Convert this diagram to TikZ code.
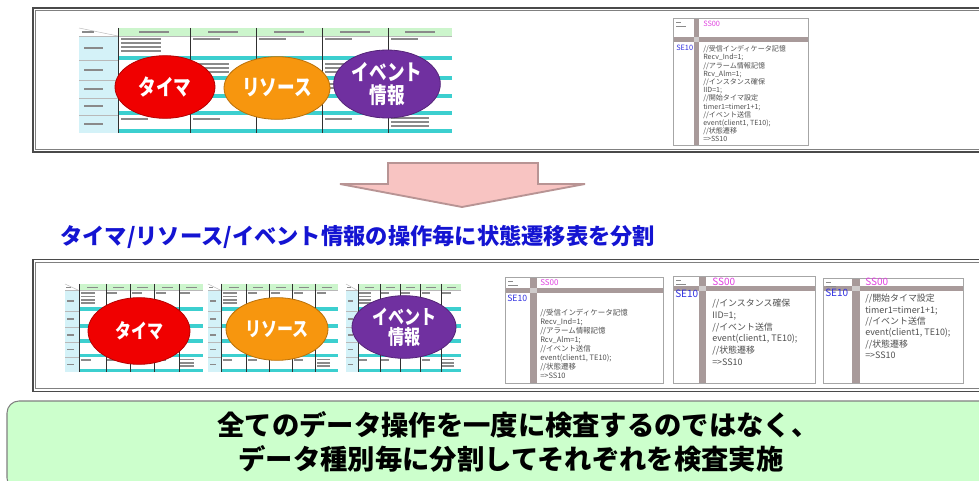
\documentclass[tikz,border=0pt]{standalone}
\usepackage{fontspec}
\usepackage{graphicx}
\setmainfont{Noto Sans CJK JP}
\usetikzlibrary{shapes.geometric}
\definecolor{tabcyan}{HTML}{D4F2F8}
\definecolor{tabgreen}{HTML}{CCF5CC}
\definecolor{tabteal}{HTML}{3CCFCF}
\definecolor{tabgrid}{HTML}{303030}
\definecolor{cellbar}{HTML}{8A8A8A}
\definecolor{elred}{HTML}{F00000}
\definecolor{elorange}{HTML}{F7960E}
\definecolor{elpurple}{HTML}{7030A0}
\definecolor{codebar}{HTML}{A89A9A}
\definecolor{codelight}{HTML}{D0CCCC}
\definecolor{codetext}{HTML}{505050}
\definecolor{codemag}{HTML}{E040E0}
\definecolor{codeblue}{HTML}{3030E0}
\definecolor{arrowfill}{HTML}{F8C4C2}
\definecolor{arrowdraw}{HTML}{B89494}
\definecolor{titleblue}{HTML}{1414D2}
\definecolor{notegreen}{HTML}{CCFFCC}
\definecolor{noteline}{HTML}{808080}
\definecolor{framecol}{HTML}{4A4A4A}
\newcommand{\cnd}[1]{\scalebox{0.8}[1]{#1}}
\tikzset{
  gridline/.style={draw=tabgrid,line width=0.7pt},
  thinline/.style={draw=gray!55,line width=0.35pt},
  elnode/.style={ellipse, draw=#1!75!black, fill=#1, line width=0.6pt, text=white, inner sep=0pt, align=center},
  codeline/.style={anchor=west, inner sep=0pt, text=codetext, text height=0.75em, text depth=0.2em},
  outerframe/.style={draw=framecol, line width=1.3pt},
  innerframe/.style={draw=gray, line width=0.6pt},
}
% table screenshot, local size 373 x 105
\newcommand{\stbtable}[4]{%
\begin{scope}[shift={(#1,#2)},xscale=#3/373,yscale=#4/105]
\fill[white] (0,0) rectangle (373,105);
\fill[tabcyan] (0,8) rectangle (39,105);
\fill[tabgreen] (39,0) rectangle (373,8);
\foreach \yy in {28,48,66,83,101} {\fill[tabteal] (39,\yy) rectangle (373,\yy+4);}
\foreach \yy in {32,52,70,87} {\draw[thinline] (0,\yy) -- (39,\yy);}
\draw[thinline] (0,8) -- (373,8);
\draw[thinline] (0,0) -- (39,8);
\draw[gridline] (39,0) -- (39,105);
\foreach \xx in {111,177,243,309} {\draw[gridline] (\xx,0) -- (\xx,105);}
\foreach \xx in {75,144,210,276,341} {\fill[cellbar] (\xx-15,3) rectangle (\xx+15,5);}
\fill[cellbar] (3,3) rectangle (15,5);
\foreach \yy in {20,42,61,78,96} {\fill[cellbar] (5,\yy-1) rectangle (24,\yy+1);}
\foreach \yy in {10,14,18,22} {\fill[cellbar] (42,\yy) rectangle (82,\yy+2);}
\foreach \xx in {111,177,243,309} {\fill[cellbar] (\xx+3,10) rectangle (\xx+30,12);}
\foreach \yy in {35,39,43} {\fill[cellbar] (114,\yy) rectangle (150,\yy+2); \fill[cellbar] (246,\yy) rectangle (280,\yy+2);}
\foreach \yy in {55,59} {\fill[cellbar] (246,\yy) rectangle (280,\yy+2);}
\foreach \xx in {39,111,243} {\fill[cellbar] (\xx+3,90) rectangle (\xx+30,92);}
\foreach \yy in {89,93,97} {\fill[cellbar] (312,\yy) rectangle (350,\yy+2);}
\end{scope}}
% code screenshot frame: x y w h colw barw bary barh
\newcommand{\codeframe}[8]{%
\begin{scope}[shift={(#1,#2)}]
\fill[white] (0,0) rectangle (#3,#4);
\fill[codebar] (#5,0) rectangle (#5+#6,#4);
\fill[codebar] (0,#7) rectangle (#3,#7+#8);
\fill[codelight] (#5,#7) rectangle (#5+#6,#7+#8);
\fill[cellbar] (3,4) rectangle (8,5.2);
\fill[cellbar] (3,8) rectangle (13,9.2);
\draw[gray!70,line width=0.5pt] (0,0) rectangle (#3,#4);
\end{scope}}
\begin{document}
\begin{tikzpicture}[x=0.75pt,y=-0.75pt]
\useasboundingbox (0,0) rectangle (979,481);
\clip (0,0) rectangle (979,481);
\fill[white] (0,0) rectangle (979,481);

% ---------- top frame ----------
\draw[outerframe] (33,8) rectangle (1000,152);
\draw[innerframe] (35.8,10.8) rectangle (1000,149.2);

\stbtable{79}{28}{373}{105}
\node[elnode=elred, minimum width=75pt, minimum height=47pt, font=\bfseries\fontsize{16.5}{18}\selectfont] (t1) at (165,87) {\cnd{タイマ}};
\node[elnode=elorange, minimum width=79.5pt, minimum height=47pt, font=\bfseries\fontsize{16.5}{18}\selectfont] (t2) at (277,88) {\cnd{リソース}};
\node[elnode=elpurple, minimum width=80pt, minimum height=51pt, font=\bfseries\fontsize{16.5}{18}\selectfont] (t3) at (387,84) {\cnd{イベント}\\[-1pt]\cnd{情報}};

\codeframe{673}{18}{135}{127}{21}{5}{19}{5}
\node[anchor=west, inner sep=0pt, text=codemag, font=\fontsize{5.5}{6}\selectfont] (tss) at (703,24) {SS00};
\node[anchor=west, inner sep=0pt, text=codeblue, font=\fontsize{5.5}{6}\selectfont] (tse) at (676,48) {SE10};
\foreach \t [count=\i from 0] in {{//受信インディケータ記憶},{Recv\_Ind=1;},{//アラーム情報記憶},{Rcv\_Alm=1;},{//インスタンス確保},{IID=1;},{//開始タイマ設定},{timer1=timer1+1;},{//イベント送信},{event(client1, TE10);},{//状態遷移},{=>SS10}}
  {\node[codeline, font=\fontsize{5.3}{6}\selectfont] (tc\i) at (703,48+8.2*\i) {\t};}

% ---------- arrow ----------
\draw[fill=arrowfill, draw=arrowdraw, line width=1.4pt, line join=miter] (388,163) -- (538,163) -- (538,184) -- (585,184) -- (462,207) -- (340,184) -- (388,184) -- cycle;

\node[anchor=west, inner sep=0pt, text=titleblue, font=\bfseries\fontsize{16.7}{19}\selectfont] (title) at (60,237) {タイマ/リソース/イベント情報の操作毎に状態遷移表を分割};

% ---------- middle frame ----------
\draw[outerframe] (33,259.5) rectangle (1000,391.5);
\draw[innerframe] (35.8,262.3) rectangle (1000,388.7);

\stbtable{65}{284}{138}{88}
\stbtable{208}{284}{130}{88}
\stbtable{346}{284}{115}{88}
\node[elnode=elred, minimum width=76.5pt, minimum height=50pt, font=\bfseries\fontsize{15}{17}\selectfont] (m1) at (139,331) {\cnd{タイマ}};
\node[elnode=elorange, minimum width=76.5pt, minimum height=47pt, font=\bfseries\fontsize{15}{17}\selectfont] (m2) at (277,329) {\cnd{リソース}};
\node[elnode=elpurple, minimum width=78pt, minimum height=47pt, font=\bfseries\fontsize{15}{16}\selectfont] (m3) at (404,327) {\cnd{イベント}\\[-1pt]\cnd{情報}};

% code 1
\codeframe{505}{277}{158}{106}{25}{7}{11}{5}
\node[anchor=west, inner sep=0pt, text=codemag, font=\fontsize{6}{7}\selectfont] (ass) at (540,283) {SS00};
\node[anchor=west, inner sep=0pt, text=codeblue, font=\fontsize{6.5}{7}\selectfont] (ase) at (507,298) {SE10};
\foreach \t [count=\i from 0] in {{//受信インディケータ記憶},{Recv\_Ind=1;},{//アラーム情報記憶},{Rcv\_Alm=1;},{//イベント送信},{event(client1, TE10);},{//状態遷移},{=>SS10}}
  {\node[codeline, font=\fontsize{5.6}{6}\selectfont] (ac\i) at (540,312+9*\i) {\t};}

% code 2
\codeframe{673}{276}{142}{107}{26}{7}{10}{5}
\node[anchor=west, inner sep=0pt, text=codemag, font=\fontsize{7.5}{8}\selectfont] (bss) at (712,282) {SS00};
\node[anchor=west, inner sep=0pt, text=codeblue, font=\fontsize{7.5}{8}\selectfont] (bse) at (675,294) {SE10};
\foreach \t [count=\i from 0] in {{//インスタンス確保},{IID=1;},{//イベント送信},{event(client1, TE10);},{//状態遷移},{=>SS10}}
  {\node[codeline, font=\fontsize{6.7}{7}\selectfont] (bc\i) at (712,303+11.7*\i) {\t};}

% code 3
\codeframe{823}{278}{140}{105}{29}{8}{8}{5}
\node[anchor=west, inner sep=0pt, text=codemag, font=\fontsize{7.5}{8}\selectfont] (css) at (865,282) {SS00};
\node[anchor=west, inner sep=0pt, text=codeblue, font=\fontsize{7.5}{8}\selectfont] (cse) at (825,293) {SE10};
\foreach \t [count=\i from 0] in {{//開始タイマ設定},{timer1=timer1+1;},{//イベント送信},{event(client1, TE10);},{//状態遷移},{=>SS10}}
  {\node[codeline, font=\fontsize{6.7}{7}\selectfont] (cc\i) at (865,298+11.4*\i) {\t};}

% ---------- note box ----------
\draw[fill=notegreen, draw=noteline, line width=0.8pt, rounded corners=9pt] (7,401) rectangle (1000,490);
\node[inner sep=0pt, font=\bfseries\fontsize{20.5}{24}\selectfont] (n1) at (518,425) {全てのデータ操作を一度に検査するのではなく、};
\node[inner sep=0pt, font=\bfseries\fontsize{20.5}{24}\selectfont] (n2) at (511,459) {データ種別毎に分割してそれぞれを検査実施};
\end{tikzpicture}
\end{document}
